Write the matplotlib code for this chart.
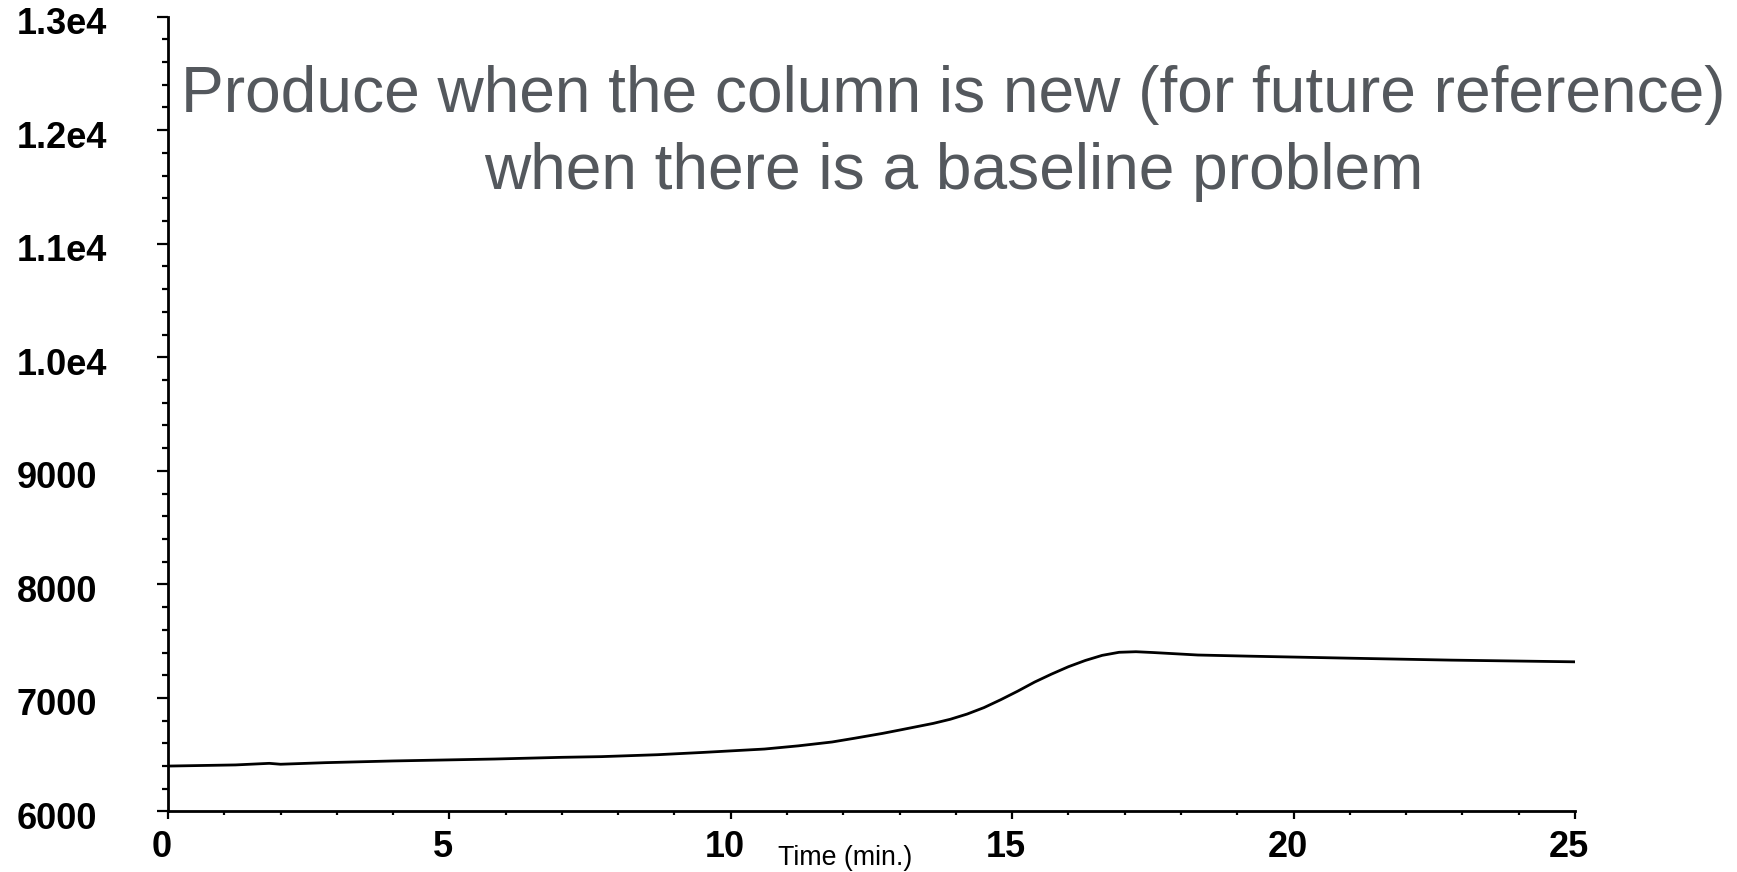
########################################################################
### Baseline drift plot ###
########################################################################

#python modules
import matplotlib
matplotlib.use('Agg')
import matplotlib.pyplot      as plt
import matplotlib.transforms  as mtransforms
from matplotlib.ticker import MultipleLocator

#detector signal over run time
time_min = [
    0.0, 1.2, 1.8, 2.0, 2.8, 4.0, 5.8, 7.0, 7.7, 8.7, 9.5, 10.6, 11.2,
    11.8, 12.2, 12.7, 13.0, 13.6, 13.9, 14.2, 14.5, 14.8, 15.1, 15.4,
    15.7, 16.0, 16.3, 16.6, 16.9, 17.2, 17.5, 18.3, 19.2, 21.0, 22.8,
    25.0
    ]
signal = [
    6400, 6410, 6424, 6416, 6430, 6445, 6462, 6477, 6483, 6500, 6520,
    6550, 6578, 6612, 6645, 6688, 6717, 6776, 6812, 6858, 6915, 6985,
    7060, 7140, 7210, 7275, 7330, 7375, 7402, 7407, 7400, 7378, 7368,
    7350, 7333, 7318
    ]

#axis ticks and labels
x_ticks   = [0, 5, 10, 15, 20, 25]
x_labels  = ['0', '5', '10', '15', '20', '25']
y_ticks   = [6000, 7000, 8000, 9000, 10000, 11000, 12000, 13000]
y_labels  = ['6000', '7000', '8000', '9000', '1.0e4', '1.1e4', '1.2e4',
             '1.3e4']

title_lines = [
    'Produce when the column is new (for future reference)',
    'when there is a baseline problem'
    ]

plt.rcParams['font.family'] = ['Liberation Sans', 'DejaVu Sans']

#create figure
fig = plt.figure(figsize=(17.37, 8.72), dpi=100)
ax  = fig.add_axes([0.0967, 0.0694, 0.8100, 0.9115])

#plot the trace
ax.plot(time_min, signal, color='k', lw=2.0, solid_joinstyle='round')

#limits
ax.set_xlim(0, 25)
ax.set_ylim(6000, 13000)

#spines
for side in ['top', 'right']:
    ax.spines[side].set_visible(False)
for side in ['left', 'bottom']:
    ax.spines[side].set_linewidth(2.0)

#set ticks
ax.set_xticks(x_ticks)
ax.set_yticks(y_ticks)
ax.xaxis.set_minor_locator(MultipleLocator(1))
ax.yaxis.set_minor_locator(MultipleLocator(200))
ax.tick_params(axis='x', which='major', length=5.5, width=1.6,
               direction='out', pad=8)
ax.tick_params(axis='x', which='minor', length=3, width=1.6,
               direction='out')
ax.tick_params(axis='y', which='major', length=8, width=1.6,
               direction='out', pad=100.7)
ax.tick_params(axis='y', which='minor', length=4.3, width=1.6,
               direction='out')

#set labels
ax.set_xticklabels(x_labels, fontsize=26, fontweight='bold')
ax.set_yticklabels(y_labels, fontsize=26, fontweight='bold')
x_shift = mtransforms.ScaledTranslation(-0.06, 0, fig.dpi_scale_trans)
for lab in ax.get_xticklabels():
    lab.set_transform(lab.get_transform() + x_shift)
y_shift = mtransforms.ScaledTranslation(0, -0.04, fig.dpi_scale_trans)
for lab in ax.get_yticklabels():
    lab.set_horizontalalignment('left')
    lab.set_transform(lab.get_transform() + y_shift)

#label x-axis
ax.set_xlabel('Time (min.)', fontsize=19.3)
ax.xaxis.set_label_coords(0.481, -0.067)
ax.xaxis.label.set_verticalalignment('baseline')

#title
fig.text(0.549, 1 - 112.0 / 872, title_lines[0], fontsize=46.1,
         color='#54585d', ha='center', va='baseline')
fig.text(0.549, 1 - 189.0 / 872, title_lines[1], fontsize=46.1,
         color='#54585d', ha='center', va='baseline')

#save plot
fig.savefig('out.png', dpi=100)
